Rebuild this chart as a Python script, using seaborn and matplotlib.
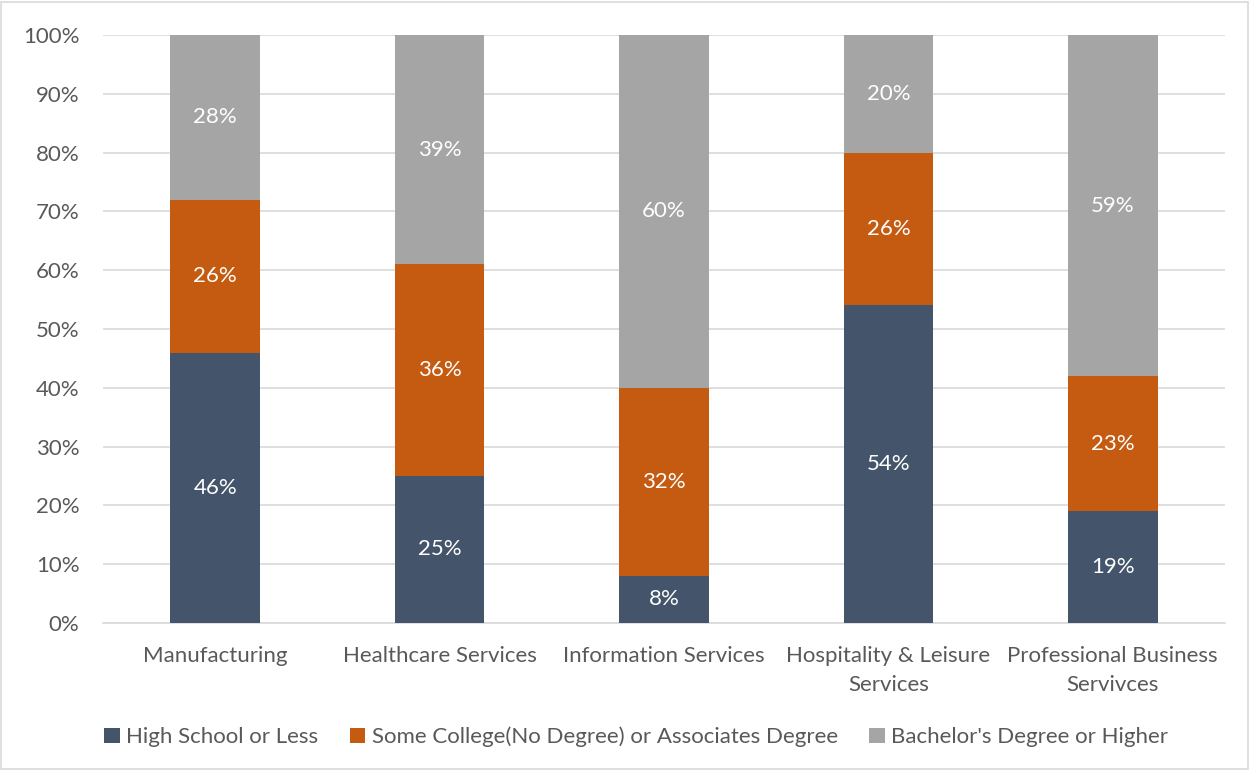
import matplotlib
matplotlib.use("Agg")
import matplotlib.pyplot as plt
import seaborn as sns
import numpy as np
import pandas as pd
from matplotlib.patches import Patch, Rectangle

categories = ["Manufacturing", "Healthcare Services", "Information Services",
              "Hospitality & Leisure\nServices", "Professional Business\nServivces"]
high_school = [46, 25, 8, 54, 19]
some_college = [26, 36, 32, 26, 23]
bachelors = [28, 39, 60, 20, 59]
series_names = ["High School or Less", "Some College(No Degree) or Associates Degree",
                "Bachelor's Degree or Higher"]
colors = ["#44546A", "#C55A11", "#A5A5A5"]

sns.set_theme(style="white")
plt.rcParams['font.family'] = ['Lato', 'DejaVu Sans']

FS = 16

fig = plt.figure(figsize=(12.5, 7.71), dpi=100)
ax = fig.add_axes([0.0824, 0.192, 0.8976, 0.7626])

hs = np.array(high_school, dtype=float)
sc = np.array(some_college, dtype=float)
ba = np.array(bachelors, dtype=float)
cum1 = hs
cum2 = hs + sc
cum3 = hs + sc + ba

df = pd.DataFrame({"cat": categories, "c1": cum1, "c2": cum2, "c3": cum3})
for col, color in zip(["c3", "c2", "c1"], colors[::-1]):
    sns.barplot(data=df, x="cat", y=col, color=color, width=0.4, ax=ax,
                saturation=1, edgecolor="none", linewidth=0, zorder=3)

for i in range(len(categories)):
    segs = [(0, cum1[i], high_school[i]), (cum1[i], cum2[i], some_college[i]),
            (cum2[i], cum3[i], bachelors[i])]
    for lo, hi, v in segs:
        mid = (lo + min(hi, 100)) / 2
        ax.text(i, mid, f"{v}%", ha="center", va="center", color="white",
                fontsize=FS, zorder=5)

ax.set_ylim(0, 100)
ax.set_xlim(-0.5, 4.5)
ax.set_yticks(np.arange(0, 101, 10))
ax.set_yticklabels([f"{t}%" for t in range(0, 101, 10)])
ax.yaxis.grid(True, color="#D9D9D9", linewidth=1.2, zorder=0)
ax.set_axisbelow(True)
for s in ["top", "right", "left"]:
    ax.spines[s].set_visible(False)
ax.spines["bottom"].set_color("#D9D9D9")
ax.spines["bottom"].set_linewidth(1.2)
ax.set_xlabel("")
ax.set_ylabel("")
ax.tick_params(axis="both", length=0, labelsize=FS, labelcolor="#595959")
ax.tick_params(axis="x", pad=16.5)
ax.tick_params(axis="y", pad=17)
for lbl in ax.get_xticklabels():
    lbl.set_linespacing(1.55)

handles = [Patch(facecolor=c, edgecolor="none") for c in colors]
fig.legend(handles, series_names, loc="center", bbox_to_anchor=(0.509, 0.044),
           ncol=3, frameon=False, fontsize=FS, labelcolor="#595959",
           handlelength=0.7, handleheight=0.7, handletextpad=0.3, columnspacing=1.4)

fig.patches.append(Rectangle((0.001, 0.003), 0.997, 0.994, transform=fig.transFigure,
                             fill=False, edgecolor="#D9D9D9", linewidth=1.2))

fig.savefig("out.png", dpi=100)
